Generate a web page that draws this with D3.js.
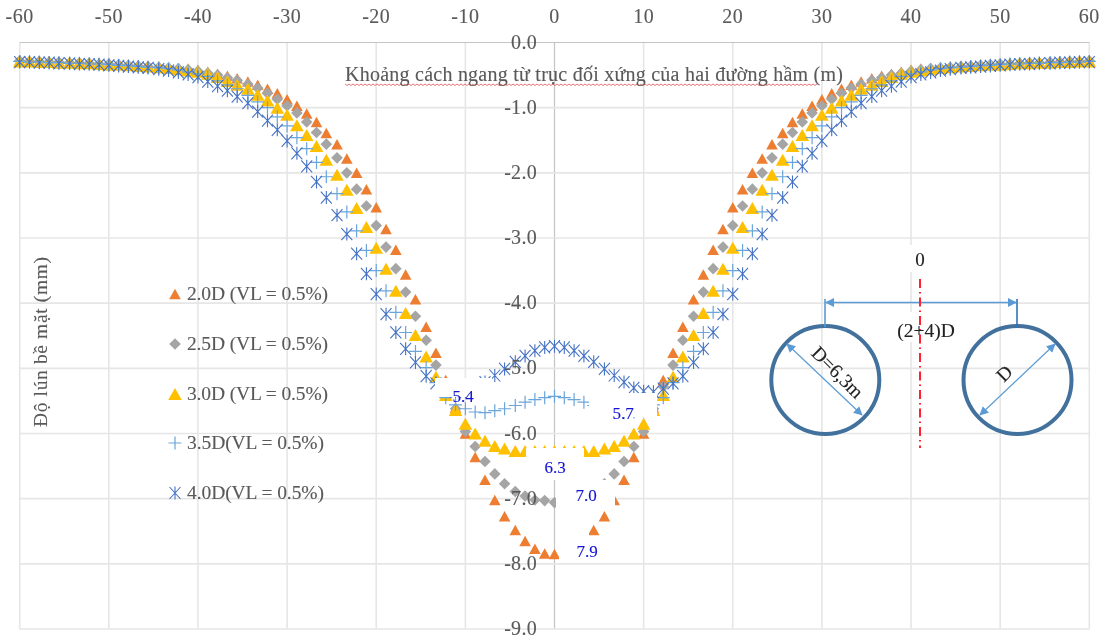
<!DOCTYPE html>
<html><head><meta charset="utf-8">
<script src="https://cdn.jsdelivr.net/npm/d3@7/dist/d3.min.js"></script>
<style>html,body{margin:0;padding:0;background:#fff}svg{display:block;filter:blur(0.35px)}text{font-family:"Liberation Serif",serif;stroke:currentColor;stroke-width:0.12px}</style>
</head><body><svg id="c" width="1106" height="638"></svg>
<script>
// distance from the symmetry axis (m); profiles are symmetric about 0
const distance=[0,1.1,2.2,3.3,4.4,5.6,6.7,7.8,8.9,10,11.1,12.2,13.3,14.4,15.6,16.7,17.8,18.9,20,21.1,22.2,23.3,24.4,25.6,26.7,27.8,28.9,30,31.1,32.2,33.3,34.4,35.6,36.7,37.8,38.9,40,41.1,42.2,43.3,44.4,45.6,46.7,47.8,48.9,50,51.1,52.2,53.3,54.4,55.6,56.7,57.8,58.9,60];
const s20=[-7.85,-7.84,-7.77,-7.65,-7.48,-7.27,-7.02,-6.71,-6.36,-6.0,-5.6,-5.18,-4.76,-4.36,-3.94,-3.56,-3.18,-2.86,-2.53,-2.25,-2.0,-1.78,-1.56,-1.39,-1.22,-1.09,-.97,-.87,-.78,-.71,-.65,-.6,-.55,-.51,-.48,-.45,-.42,-.40,-.39,-.38,-.37,-.36,-.35,-.34,-.33,-.33,-.32,-.31,-.31,-.30,-.30,-.29,-.29,-.28,-.28];
const s25=[-7.06,-7.03,-7.02,-6.96,-6.89,-6.77,-6.62,-6.43,-6.2,-5.97,-5.62,-5.28,-4.95,-4.57,-4.2,-3.83,-3.47,-3.14,-2.81,-2.51,-2.25,-2.0,-1.77,-1.56,-1.38,-1.22,-1.08,-.97,-.87,-.78,-.70,-.64,-.58,-.54,-.50,-.47,-.44,-.42,-.40,-.39,-.38,-.37,-.36,-.35,-.34,-.33,-.33,-.32,-.31,-.31,-.30,-.30,-.29,-.29,-.28];
const s30=[-6.27,-6.27,-6.27,-6.27,-6.27,-6.23,-6.19,-6.11,-6.0,-5.85,-5.64,-5.41,-5.13,-4.82,-4.49,-4.15,-3.81,-3.47,-3.15,-2.83,-2.54,-2.26,-2.03,-1.80,-1.59,-1.42,-1.27,-1.11,-1.0,-.89,-.80,-.71,-.65,-.59,-.53,-.48,-.45,-.43,-.41,-.39,-.38,-.37,-.36,-.35,-.34,-.34,-.33,-.32,-.32,-.31,-.31,-.30,-.30,-.29,-.29];
const s35=[-5.43,-5.45,-5.48,-5.52,-5.57,-5.62,-5.65,-5.68,-5.67,-5.62,-5.56,-5.45,-5.22,-4.99,-4.74,-4.45,-4.14,-3.81,-3.5,-3.19,-2.89,-2.6,-2.32,-2.06,-1.84,-1.63,-1.46,-1.28,-1.14,-1.0,-.91,-.81,-.71,-.65,-.59,-.52,-.48,-.45,-.42,-.40,-.39,-.38,-.37,-.36,-.35,-.34,-.33,-.33,-.32,-.32,-.31,-.31,-.30,-.30,-.29];
const s40=[-4.66,-4.68,-4.73,-4.81,-4.9,-5.01,-5.11,-5.21,-5.3,-5.35,-5.36,-5.31,-5.23,-5.12,-4.91,-4.7,-4.45,-4.17,-3.86,-3.55,-3.24,-2.94,-2.65,-2.38,-2.14,-1.9,-1.7,-1.51,-1.34,-1.2,-1.06,-.93,-.83,-.74,-.67,-.6,-.53,-.49,-.46,-.43,-.41,-.39,-.38,-.37,-.36,-.35,-.34,-.33,-.33,-.32,-.32,-.31,-.31,-.30,-.30];
const seriesLabels=["2.0D (VL = 0.5%)","2.5D (VL = 0.5%)","3.0D (VL = 0.5%)","3.5D(VL = 0.5%)","4.0D(VL = 0.5%)"];
const xTicks=[-60,-50,-40,-30,-20,-10,0,10,20,30,40,50,60];
const yTicks=[0,-1,-2,-3,-4,-5,-6,-7,-8,-9];
const peakLabels=[["5.4",463,396],["5.7",623,413],["6.3",555,467],["7.0",586,495],["7.9",587,551]];
const titleText="Khoảng cách ngang từ trục đối xứng của hai đường hầm (m)";
const yTitle="Độ lún bề mặt (mm)";

const svg=d3.select("#c");
const x=d3.scaleLinear().domain([-60,60]).range([19.7,1089.3]);
const y=d3.scaleLinear().domain([0,-9]).range([42.5,629]);
const grid=svg.append("g");
grid.selectAll(".v").data(xTicks).join("line").attr("x1",d=>x(d)).attr("x2",d=>x(d)).attr("y1",y(0)).attr("y2",y(-9))
 .attr("stroke",d=>d===0?"#c4c4c4":"#e6e6e6").attr("stroke-width",d=>d===0?1.2:1.6);
grid.selectAll(".h").data(yTicks).join("line").attr("x1",x(-60)).attr("x2",x(60)).attr("y1",d=>y(d)).attr("y2",d=>y(d))
 .attr("stroke",d=>d===0?"#c4c4c4":"#e6e6e6").attr("stroke-width",d=>d===0?1.2:1.6);

const tri=(w,h)=>`M0,${-h/2}L${w},${h/2}L${-w},${h/2}Z`;
const shapes={
 orange:{d:tri(5.8,10.5),fill:"#ED7D31"},
 gray:{d:"M0,-5.8L5.8,0L0,5.8L-5.8,0Z",fill:"#A5A5A5"},
 yellow:{d:tri(6.8,12),fill:"#FFC000"},
 plus:{d:"M-6.5,0H6.5M0,-6.5V6.5",stroke:"#6AA5DB",sw:1.2},
 star:{d:"M-5.5,-6L5.5,6M-5.5,6L5.5,-6M0,-6.5V6.5",stroke:"#4472C4",sw:1.1}
};
const series=[[s20,"orange"],[s25,"gray"],[s30,"yellow"],[s35,"plus"],[s40,"star"]];
function put(g,sh){g.attr("d",sh.d).attr("fill",sh.fill||"none").attr("stroke",sh.stroke||"none").attr("stroke-width",sh.sw||0);}
const pts=series.map(([v,k])=>{
 const rows=[];
 distance.forEach((d,i)=>{rows.push([d,v[i]]);if(d!==0)rows.push([-d,v[i]]);});
 return [rows,k];
});
pts.forEach(([rows,k])=>{
 svg.append("g").selectAll("path").data(rows).join("path")
  .attr("transform",d=>`translate(${x(d[0])},${y(d[1])})`).call(put,shapes[k]);
});

// white text boxes that mask the marks in the original
const masks=[[435,378,57,19],[589,393,68,24],[526,448,58,32],[556,480,59,30],[559,530,30,32],[900,245,40,27],[895,312,62,30]];
svg.append("g").selectAll("rect").data(masks).join("rect")
 .attr("x",d=>d[0]).attr("y",d=>d[1]).attr("width",d=>d[2]).attr("height",d=>d[3]).attr("fill","#fff");

const axisCol="#595959";
const txt=(g,s,px,py,size,fill,anchor)=>g.append("text").text(s).attr("x",px).attr("y",py).attr("font-size",size).attr("fill",fill).attr("color",fill).attr("text-anchor",anchor||"middle");
const fmt=d=>d3.format(".1f")(d).replace("\u2212","-");
svg.append("g").selectAll("text").data(xTicks).join("text").text(d=>d).attr("x",d=>x(d)).attr("y",23)
 .attr("text-anchor","middle").attr("font-size",20).attr("letter-spacing",0.5).attr("fill",axisCol).attr("color",axisCol);
svg.append("g").selectAll("text").data(yTicks).join("text").text(d=>fmt(d)).attr("x",537).attr("y",d=>y(d)+6)
 .attr("text-anchor","end").attr("font-size",20).attr("letter-spacing",0.3).attr("fill",axisCol).attr("color",axisCol);

// title with spell-check squiggle
const sq=d3.path();sq.moveTo(345,84);
for(let px=345,k=0;px<816;px+=2,k++)sq.lineTo(px+2,k%2?84:85.5);
svg.append("path").attr("d",sq.toString()).attr("fill","none").attr("stroke","#e05050").attr("stroke-width",0.8);
txt(svg,titleText,594,81,20,axisCol).attr("textLength",498).attr("lengthAdjust","spacing");
txt(svg,yTitle,0,0,19.5,axisCol).attr("transform","translate(47,342) rotate(-90)").attr("textLength",170);

// legend
const legY=[294,344,394,443,493];
["orange","gray","yellow","plus","star"].forEach((k,i)=>{
 svg.append("path").attr("transform",`translate(175,${legY[i]})`).call(put,shapes[k]);
 txt(svg,seriesLabels[i],187,legY[i]+6,19.5,axisCol,"start").attr("textLength",i<3?141:137);
});

// peak labels
peakLabels.forEach(d=>txt(svg,d[0],d[1],d[2]+5.5,17,"#1414d4"));

// tunnel sketch
const defs=svg.append("defs");
const mk=(id,col)=>defs.append("marker").attr("id",id).attr("viewBox","0 0 10 10").attr("refX",9).attr("refY",5).attr("markerWidth",9).attr("markerHeight",9).attr("markerUnits","userSpaceOnUse").attr("orient","auto-start-reverse").append("path").attr("d","M0,0L10,5L0,10Z").attr("fill",col);
mk("a","#5B9BD5");
const sk=svg.append("g");
[825.3,1017.5].forEach(cx=>sk.append("circle").attr("cx",cx).attr("cy",380).attr("r",54).attr("fill","none").attr("stroke","#41719C").attr("stroke-width",4));
const ln=(x1,y1,x2,y2,c,w)=>sk.append("line").attr("x1",x1).attr("y1",y1).attr("x2",x2).attr("y2",y2).attr("stroke",c).attr("stroke-width",w);
ln(825,299,825,327,"#5B9BD5",1.6);
ln(1017,299,1017,327,"#2E75B6",1.6);
ln(826,302.5,1016,302.5,"#5B9BD5",1.6).attr("marker-start","url(#a)").attr("marker-end","url(#a)");
ln(787,344,862,415,"#5B9BD5",1.2).attr("marker-start","url(#a)").attr("marker-end","url(#a)");
ln(1055,344,980,415,"#5B9BD5",1.2).attr("marker-start","url(#a)").attr("marker-end","url(#a)");
ln(920,279,920,448,"#FF2030",2).attr("stroke-dasharray","9 4 1.5 4");
txt(sk,"0",920,266,19,"#222");
txt(sk,"(2+4)D",926,337,19.5,"#222");
txt(sk,"D=6,3m",0,0,19.5,"#222").attr("transform","translate(833,377) rotate(45)");
txt(sk,"D",0,0,19.5,"#222").attr("transform","translate(1009,378) rotate(-45)");
</script></body></html>
